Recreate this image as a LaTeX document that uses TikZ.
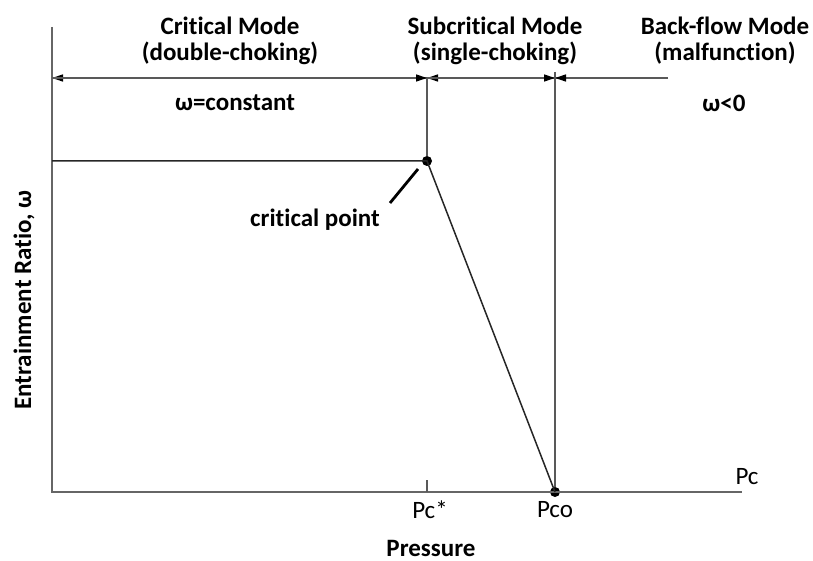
\documentclass[tikz,border=0pt]{standalone}
\usepackage{fontspec}
\setmainfont{Carlito}[Ligatures=NoCommon]
\usetikzlibrary{arrows.meta}
\begin{document}
\begin{tikzpicture}[x=1pt,y=-1pt,
  axis/.style={draw=black!60,line width=1.4pt},
  guide/.style={draw=black!65,line width=1.3pt},
  curve/.style={draw=black!85,line width=1.5pt},
  dim/.style={draw=black!65,line width=1.3pt,-{Triangle[length=11pt,width=7pt,color=black]}},
  lbl/.style={font=\fontsize{25}{30}\selectfont\bfseries,inner sep=0pt,align=center},
  tick/.style={font=\fontsize{25}{30}\selectfont,inner sep=0pt},
  dot/.style={circle,fill=black,inner sep=0pt,minimum size=10pt}]
\useasboundingbox (0,0) rectangle (813,561);
% coordinates
\coordinate (O) at (52,492);
\coordinate (ytop) at (52,27);
\coordinate (xend) at (742,492);
\coordinate (dl) at (52,78);
\coordinate (dm) at (427,78);
\coordinate (dr) at (555,78);
\coordinate (dre) at (668,78);
\coordinate (prtop) at (555,72);
\coordinate (tick) at (427,480);
\coordinate (ybase) at (52,161);
\coordinate (lead1) at (418,169);
\coordinate (lead2) at (390,203);
\node[dot] (cp) at (427,161) {};
\node[dot] (pco) at (555,492) {};
% axes
\draw[axis] (ytop) -- (O) -- (xend);
\draw[guide] (tick) -- (427,492);
% dimension arrows
\draw[dim] (dm) -- (dl);
\draw[dim] (dl) -- (dm);
\draw[dim] (dr) -- (dm);
\draw[dim] (dm) -- (dr);
\draw[guide] (dr) -- (dre);
\draw[dim] (dre) -- (dr);
\draw[guide] (prtop) -- (pco);
\draw[guide] (dm) -- (cp);
% curve
\draw[curve] (ybase) -- (cp.center) -- (pco.center);
\draw[draw=black,line width=2.8pt] (lead1) -- (lead2);
% labels
\node[lbl] (m1) at (230,26) {Critical Mode};
\node[lbl] (m1b) at (230,53) {(double-choking)};
\node[lbl] (m2) at (495,26) {Subcritical Mode};
\node[lbl] (m2b) at (495,53) {(single-choking)};
\node[lbl] (m3) at (725,26) {Back-flow Mode};
\node[lbl] (m3b) at (725,53) {(malfunction)};
\node[lbl] (w1) at (235,103) {ω=constant};
\node[lbl] (w2) at (724,103) {ω<0};
\node[lbl] (cpl) at (315,220) {critical point};
\node[lbl,rotate=90] (ylab) at (24,300) {Entrainment Ratio, ω};
\node[lbl] (xlab) at (431,548) {Pressure};
\node[tick] (pcs) at (430,510) {Pc*};
\node[tick] (pcol) at (555,510) {Pco};
\node[tick] (pcl) at (747,477) {Pc};
\end{tikzpicture}
\end{document}
